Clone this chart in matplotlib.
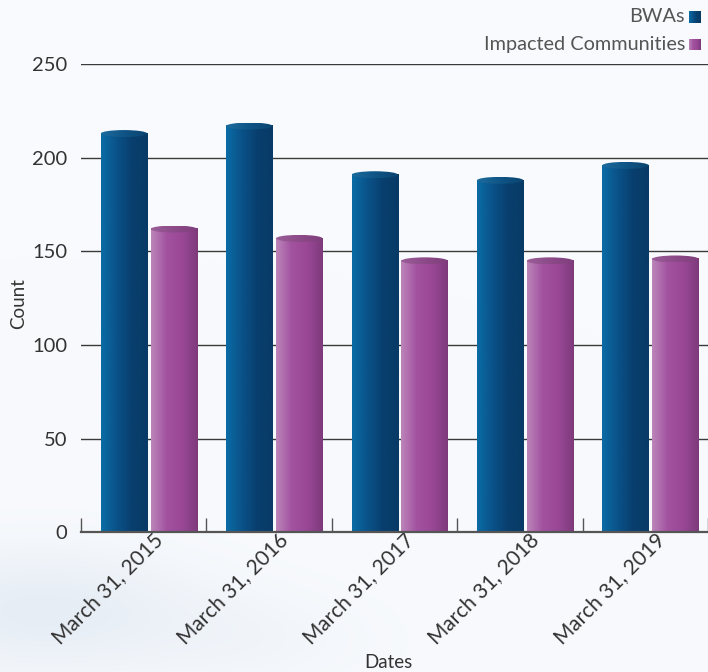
import numpy as np
import matplotlib.pyplot as plt
from matplotlib.patches import Ellipse
from matplotlib.colors import LinearSegmentedColormap
from matplotlib.transforms import ScaledTranslation

# data
dates = ['March 31, 2015', 'March 31, 2016', 'March 31, 2017',
         'March 31, 2018', 'March 31, 2019']
bwas = [213, 217, 191, 188, 196]
impacted = [162, 157, 145, 145, 146]
series_names = ['BWAs', 'Impacted Communities']

plt.rcParams['font.family'] = ['Lato', 'DejaVu Sans']

W, H = 708, 672
fig = plt.figure(figsize=(W / 100, H / 100), dpi=100)
fig.patch.set_facecolor('#f8fafd')

# soft background with a faint blue cloud at bottom left
bg = fig.add_axes([0, 0, 1, 1], zorder=-10)
yy, xx = np.mgrid[0:H, 0:W]
base = np.array([248, 250, 253], float) / 255
shade = np.array([226, 234, 243], float) / 255
blob = (np.exp(-(((xx - 40) / 150) ** 2 + ((yy - 610) / 60) ** 2)) * 0.8
        + np.exp(-(((xx - 250) / 120) ** 2 + ((yy - 640) / 50) ** 2)) * 0.25)
blob = np.clip(blob, 0, 1)[..., None]
bg.imshow(base * (1 - blob) + shade * blob, aspect='auto', extent=[0, W, H, 0])
bg.axis('off')

blue_cm = LinearSegmentedColormap.from_list('b', ['#0a6ca5', '#0a5289', '#083f6e', '#083a66'])
purple_cm = LinearSegmentedColormap.from_list('p', ['#bb86ba', '#a352a0', '#9a4896', '#7d3a7b'])
purple_top = LinearSegmentedColormap.from_list('pt', ['#9a5e98', '#8c4a88', '#7f3e7c'])
blue_top = LinearSegmentedColormap.from_list('bt', ['#1d6c9e', '#0f5485', '#0b446f'])

x0_px, y0_px, top_px = 81, 532.3, 64.3
unit_px = 127.0
ax = fig.add_axes([x0_px / W, (H - y0_px) / H, (W - x0_px) / W, (y0_px - top_px) / H])
ax.set_facecolor('none')

px_per_val = (y0_px - top_px) / 250
cap_h = 7 / px_per_val
grad = np.linspace(0, 1, 256).reshape(1, -1)
width = 47 / unit_px
offsets = [-20 / unit_px, 30.5 / unit_px]


def cylinder(xc, h, cm, top_cm):
    xa, xb = xc - width / 2, xc + width / 2
    ax.imshow(grad, cmap=cm, extent=[xa, xb, 0, h], aspect='auto', zorder=3)
    ell = Ellipse((xc, h), width, cap_h, transform=ax.transData)
    im = ax.imshow(grad, cmap=top_cm, extent=[xa, xb, h - cap_h / 2, h + cap_h / 2],
                   aspect='auto', zorder=4)
    im.set_clip_path(ell)


for i in range(len(dates)):
    cylinder(i + offsets[0], bwas[i], blue_cm, blue_top)
    cylinder(i + offsets[1], impacted[i], purple_cm, purple_top)

ax.set_xlim(-0.5, -0.5 + (W - x0_px) / unit_px)
ax.set_ylim(0, 250)

for s in ['top', 'right', 'left']:
    ax.spines[s].set_visible(False)
ax.spines['bottom'].set_color('#555555')
ax.spines['bottom'].set_linewidth(1.6)
ax.spines['bottom'].set_zorder(5)

ax.set_yticks([0, 50, 100, 150, 200, 250])
ax.yaxis.grid(True, color='#3a3a3a', linewidth=1.0, zorder=1)
ax.set_axisbelow(True)
ax.tick_params(axis='y', length=0, pad=10, labelsize=14.5, labelcolor='#333333')

ax.set_xticks(range(len(dates)))
ax.set_xticks(np.arange(-0.5, len(dates), 1), minor=True)
ax.set_xticklabels(dates, rotation=45, ha='right', rotation_mode='anchor',
                   fontsize=15, color='#333333')
ax.tick_params(axis='x', which='major', length=0, pad=2)
ax.tick_params(axis='x', which='minor', direction='in', length=10,
               color='#555555', width=1)
for lab in ax.get_xticklabels():
    lab.set_transform(lab.get_transform() + ScaledTranslation(0.09, 0.05, fig.dpi_scale_trans))

ax.set_ylabel('Count', fontsize=13.5, color='#333333')
ax.yaxis.set_label_coords((27 - x0_px) / (W - x0_px), (y0_px - 304) / (y0_px - top_px))
ax.set_xlabel('Dates', fontsize=13.5, color='#333333')
ax.xaxis.set_label_coords((388 - x0_px) / (W - x0_px), (y0_px - 654) / (y0_px - top_px))

# legend: right aligned text followed by a small gradient square
for k, (name, cm) in enumerate(zip(series_names, [blue_cm, purple_cm])):
    yc = 17 + 27.5 * k
    fig.text(685 / W, 1 - yc / H, name, ha='right', va='center',
             fontsize=14.3, color='#555555')
    lax = fig.add_axes([689 / W, 1 - (yc + 6) / H, 12 / W, 12 / H])
    lax.imshow(grad, cmap=cm, aspect='auto')
    lax.axis('off')

fig.savefig('out.png', dpi=100, facecolor=fig.get_facecolor())
